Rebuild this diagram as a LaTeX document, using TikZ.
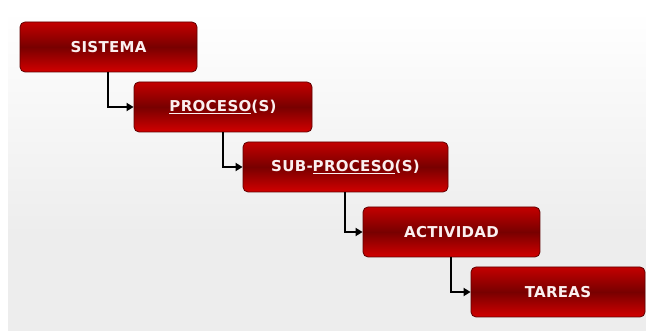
\documentclass[tikz,border=0pt]{standalone}
\usepackage{fontspec}
\setmainfont{DejaVu Sans}
\usetikzlibrary{arrows.meta}
\definecolor{boxtop}{HTML}{D60000}
\definecolor{boxmid}{HTML}{780000}
\definecolor{boxbot}{HTML}{E80000}
\definecolor{boxedge}{HTML}{600000}
\definecolor{labelwhite}{HTML}{FBEFEF}
\definecolor{panelbot}{HTML}{EDEDED}
\pgfdeclareverticalshading{boxshade}{100bp}{
  color(0bp)=(boxbot); color(25bp)=(boxbot!80!boxmid); color(50bp)=(boxmid);
  color(75bp)=(boxtop!80!boxmid); color(100bp)=(boxtop)}
\pgfdeclareverticalshading{panelshade}{100bp}{
  color(0bp)=(panelbot); color(40bp)=(panelbot); color(75bp)=(white); color(100bp)=(white)}
\tikzset{
  levelbox/.style={draw=boxedge, line width=0.8pt, rounded corners=5pt,
    shading=boxshade, text=labelwhite, font=\bfseries\fontsize{15}{17}\selectfont\addfontfeatures{LetterSpace=2},
    minimum height=50pt, inner sep=0pt},
  link/.style={draw=black, line width=2.2pt, -{Triangle[length=7pt,width=8pt]}}
}
\begin{document}
\begin{tikzpicture}[x=1pt,y=-1pt]
  \useasboundingbox (0,0) rectangle (646,331);
  \fill[white] (0,0) rectangle (646,331);
  \shade[shading=panelshade] (8,10) rectangle (646,331);
  \node[levelbox, minimum width=177pt] (sis) at (108.5,47) {SISTEMA};
  \node[levelbox, minimum width=178pt] (pro) at (223,107) {\underline{PROCESO}(S)};
  \node[levelbox, minimum width=205pt] (sub) at (345.5,167) {SUB-\underline{PROCESO}(S)};
  \node[levelbox, minimum width=177pt] (act) at (451.5,232) {ACTIVIDAD};
  \node[levelbox, minimum width=174pt] (tar) at (558,292) {TAREAS};
  \draw[link] (sis.south -| 108,0) |- (pro.west);
  \draw[link] (pro.south -| 223,0) |- (sub.west);
  \draw[link] (sub.south -| 345,0) |- (act.west);
  \draw[link] (act.south -| 451,0) |- (tar.west);
\end{tikzpicture}
\end{document}
